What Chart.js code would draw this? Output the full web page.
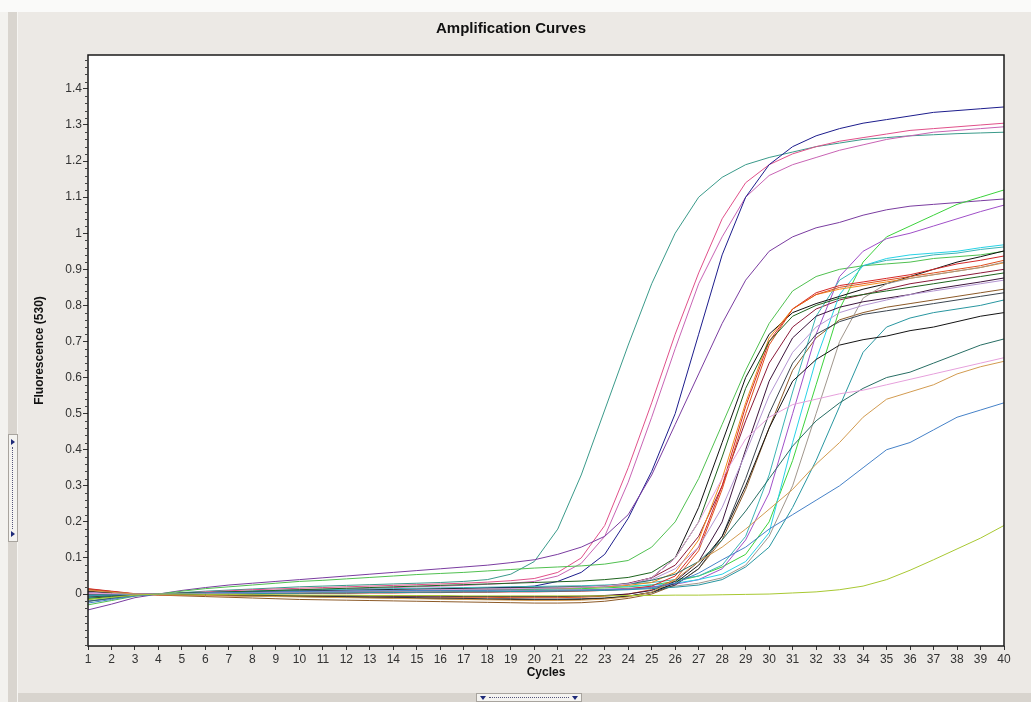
<!DOCTYPE html>
<html>
<head>
<meta charset="utf-8">
<script src="https://cdn.jsdelivr.net/npm/chart.js@4.4.1/dist/chart.umd.min.js"></script>
<style>
  html, body { margin: 0; padding: 0; }
  body { width: 1031px; height: 702px; background: #ECE9E5; position: relative; overflow: hidden; }
  #topband { position: absolute; left: 0; top: 0; width: 1031px; height: 12px; background: #FAFAF9; }
  #leftedge { position: absolute; left: 0; top: 12px; width: 8px; height: 690px; background: #F3F2EF; }
  #leftbar { position: absolute; left: 8px; top: 12px; width: 9px; height: 690px; background: #D9D5CF; border-right: 1px solid #F6F5F2; }
  #bottombar { position: absolute; left: 18px; top: 693px; width: 1013px; height: 9px; background: #D8D4CE; }
  #hgrip { position: absolute; left: 476px; top: 693px; width: 104px; height: 7px; background: #F4F3F0; border: 1px solid #A8A49E; }
  #hgrip .dots { position: absolute; left: 12px; right: 12px; top: 3px; border-top: 1px dotted #55557A; }
  #vgrip { position: absolute; left: 8px; top: 434px; width: 8px; height: 106px; background: #F4F3F0; border: 1px solid #A8A49E; }
  #vgrip .dots { position: absolute; top: 12px; bottom: 12px; left: 3px; border-left: 1px dotted #55557A; }
  .tdown { position: absolute; top: 2px; width: 0; height: 0; border-left: 3px solid transparent; border-right: 3px solid transparent; border-top: 4px solid #1E2A78; }
  .tright { position: absolute; left: 2px; width: 0; height: 0; border-top: 3px solid transparent; border-bottom: 3px solid transparent; border-left: 4px solid #1E2A78; }
  canvas { position: absolute; left: 0; top: 0; }
</style>
</head>
<body>
<div id="topband"></div>
<div id="leftedge"></div>
<div id="leftbar"></div>
<div id="bottombar"></div>
<div id="hgrip"><div class="tdown" style="left:3px"></div><div class="dots"></div><div class="tdown" style="right:3px"></div></div>
<div id="vgrip"><div class="tright" style="top:4px"></div><div class="dots"></div><div class="tright" style="bottom:4px"></div></div>
<canvas id="ampChart" width="1031" height="702"></canvas>
<script>
// cycle labels (x axis)
var cycles = ['1','2','3','4','5','6','7','8','9','10','11','12','13','14','15','16','17','18','19','20',
              '21','22','23','24','25','26','27','28','29','30','31','32','33','34','35','36','37','38','39','40'];

// fluorescence values that carry a tick label
var yLabelled = [0, 0.1, 0.2, 0.3, 0.4, 0.5, 0.6, 0.7, 0.8, 0.9, 1, 1.1, 1.2, 1.3, 1.4];

// one array per well, cycles 1..40
var teal = [-0.02, -0.012, -0.004, 0.0, 0.004, 0.008, 0.011, 0.014, 0.017, 0.02, 0.022, 0.024, 0.026, 0.028, 0.03, 0.032, 0.035, 0.04, 0.055, 0.09,
            0.18, 0.33, 0.51, 0.69, 0.86, 1.0, 1.1, 1.155, 1.19, 1.21, 1.225, 1.24, 1.25, 1.26, 1.265, 1.27, 1.273, 1.276, 1.278, 1.28];
var pink = [0.0, 0.0, -0.002, 0.0, 0.003, 0.006, 0.009, 0.012, 0.014, 0.016, 0.018, 0.02, 0.022, 0.024, 0.026, 0.028, 0.03, 0.033, 0.037, 0.043,
            0.06, 0.1, 0.19, 0.35, 0.53, 0.72, 0.89, 1.04, 1.14, 1.19, 1.22, 1.24, 1.255, 1.265, 1.275, 1.285, 1.29, 1.295, 1.3, 1.305];
var magenta = [-0.01, -0.006, -0.002, 0.0, 0.002, 0.004, 0.006, 0.008, 0.01, 0.012, 0.013, 0.014, 0.016, 0.018, 0.02, 0.022, 0.024, 0.027, 0.03, 0.035,
               0.05, 0.085, 0.16, 0.31, 0.49, 0.68, 0.86, 0.99, 1.1, 1.16, 1.19, 1.21, 1.23, 1.245, 1.26, 1.27, 1.28, 1.285, 1.29, 1.295];
var navy = [-0.005, -0.003, -0.001, 0.0, 0.002, 0.004, 0.005, 0.006, 0.007, 0.008, 0.009, 0.01, 0.011, 0.012, 0.013, 0.014, 0.015, 0.017, 0.019, 0.022,
            0.035, 0.06, 0.11, 0.21, 0.34, 0.5, 0.72, 0.94, 1.1, 1.19, 1.24, 1.27, 1.29, 1.305, 1.315, 1.325, 1.335, 1.34, 1.345, 1.35];
var purple = [-0.044, -0.028, -0.01, 0.0, 0.01, 0.018, 0.025, 0.03, 0.035, 0.04, 0.045, 0.05, 0.055, 0.06, 0.065, 0.07, 0.075, 0.08, 0.087, 0.095,
              0.11, 0.13, 0.16, 0.22, 0.33, 0.47, 0.61, 0.75, 0.87, 0.95, 0.99, 1.015, 1.03, 1.05, 1.065, 1.075, 1.08, 1.085, 1.09, 1.095];
var greenHigh = [-0.03, -0.018, -0.006, 0.0, 0.008, 0.015, 0.02, 0.025, 0.03, 0.035, 0.038, 0.042, 0.046, 0.05, 0.054, 0.057, 0.06, 0.064, 0.068, 0.072,
                 0.075, 0.078, 0.083, 0.093, 0.13, 0.2, 0.32, 0.47, 0.62, 0.75, 0.84, 0.88, 0.9, 0.91, 0.915, 0.92, 0.93, 0.935, 0.94, 0.95];
var greenLate = [-0.015, -0.008, -0.002, 0.0, 0.002, 0.003, 0.004, 0.005, 0.006, 0.006, 0.007, 0.008, 0.008, 0.009, 0.01, 0.01, 0.011, 0.012, 0.012, 0.013,
                 0.014, 0.015, 0.017, 0.02, 0.025, 0.035, 0.05, 0.075, 0.11, 0.2, 0.37, 0.58, 0.79, 0.92, 0.99, 1.02, 1.05, 1.08, 1.1, 1.12];
var violet = [-0.02, -0.012, -0.004, 0.0, 0.0, 0.001, 0.002, 0.002, 0.003, 0.003, 0.004, 0.004, 0.005, 0.005, 0.006, 0.006, 0.007, 0.007, 0.008, 0.009,
              0.01, 0.011, 0.013, 0.016, 0.02, 0.027, 0.04, 0.07, 0.15, 0.28, 0.5, 0.72, 0.88, 0.95, 0.985, 1.0, 1.02, 1.04, 1.06, 1.078];
var cyan = [-0.01, -0.006, -0.002, 0.0, 0.001, 0.002, 0.003, 0.004, 0.005, 0.006, 0.007, 0.008, 0.009, 0.01, 0.011, 0.012, 0.013, 0.014, 0.015, 0.016,
            0.017, 0.018, 0.02, 0.022, 0.025, 0.03, 0.04, 0.055, 0.09, 0.17, 0.42, 0.65, 0.83, 0.91, 0.93, 0.94, 0.945, 0.95, 0.96, 0.968];
var tealLight = [-0.005, -0.003, -0.001, 0.0, 0.002, 0.004, 0.006, 0.008, 0.01, 0.011, 0.012, 0.013, 0.014, 0.015, 0.016, 0.017, 0.018, 0.019, 0.02, 0.021,
                 0.022, 0.023, 0.025, 0.028, 0.032, 0.04, 0.05, 0.08, 0.16, 0.33, 0.56, 0.77, 0.87, 0.91, 0.925, 0.93, 0.94, 0.945, 0.955, 0.962];
var blackA = [0.005, 0.002, 0.0, 0.0, 0.002, 0.004, 0.005, 0.006, 0.007, 0.008, 0.009, 0.01, 0.011, 0.012, 0.013, 0.014, 0.015, 0.016, 0.017, 0.018,
              0.019, 0.02, 0.022, 0.028, 0.045, 0.1, 0.24, 0.42, 0.6, 0.72, 0.78, 0.805, 0.825, 0.845, 0.86, 0.88, 0.9, 0.92, 0.935, 0.951];
var red = [0.015, 0.008, 0.001, -0.002, -0.002, -0.001, 0.0, 0.0, 0.001, 0.001, 0.002, 0.002, 0.003, 0.003, 0.004, 0.004, 0.005, 0.005, 0.006, 0.006,
           0.007, 0.008, 0.01, 0.014, 0.022, 0.05, 0.13, 0.3, 0.52, 0.7, 0.79, 0.835, 0.855, 0.865, 0.875, 0.885, 0.9, 0.915, 0.925, 0.937];
var orange = [0.01, 0.005, 0.0, -0.001, 0.0, 0.001, 0.002, 0.003, 0.004, 0.005, 0.006, 0.007, 0.008, 0.009, 0.01, 0.011, 0.012, 0.013, 0.014, 0.015,
              0.016, 0.018, 0.02, 0.024, 0.032, 0.06, 0.15, 0.32, 0.53, 0.71, 0.79, 0.83, 0.845, 0.855, 0.865, 0.875, 0.885, 0.895, 0.905, 0.918];
var orangeRed = [0.012, 0.006, 0.0, -0.002, -0.003, -0.004, -0.005, -0.005, -0.006, -0.006, -0.007, -0.007, -0.008, -0.008, -0.008, -0.009, -0.009, -0.009, -0.01, -0.01,
                 -0.01, -0.009, -0.006, 0.0, 0.012, 0.04, 0.12, 0.29, 0.5, 0.69, 0.79, 0.83, 0.85, 0.86, 0.87, 0.88, 0.89, 0.9, 0.91, 0.925];
var grey = [0.0, 0.0, 0.0, 0.0, 0.001, 0.002, 0.002, 0.003, 0.003, 0.004, 0.004, 0.005, 0.005, 0.006, 0.006, 0.007, 0.007, 0.008, 0.008, 0.009,
            0.01, 0.011, 0.012, 0.014, 0.017, 0.022, 0.03, 0.045, 0.08, 0.16, 0.3, 0.5, 0.7, 0.82, 0.86, 0.875, 0.885, 0.895, 0.905, 0.92];
var darkGreen = [-0.012, -0.007, -0.002, 0.0, 0.002, 0.004, 0.006, 0.008, 0.01, 0.012, 0.014, 0.016, 0.018, 0.02, 0.022, 0.024, 0.026, 0.028, 0.03, 0.032,
                 0.034, 0.036, 0.04, 0.046, 0.06, 0.1, 0.2, 0.38, 0.57, 0.7, 0.77, 0.8, 0.82, 0.83, 0.84, 0.85, 0.86, 0.87, 0.88, 0.89];
var darkPurple = [0.0, 0.0, 0.0, 0.0, -0.001, -0.002, -0.003, -0.003, -0.004, -0.004, -0.005, -0.005, -0.005, -0.006, -0.006, -0.006, -0.007, -0.007, -0.007, -0.007,
                  -0.007, -0.006, -0.004, 0.0, 0.01, 0.035, 0.09, 0.2, 0.4, 0.59, 0.71, 0.77, 0.795, 0.81, 0.82, 0.83, 0.845, 0.855, 0.865, 0.876];
var lavender = [0.005, 0.003, 0.001, 0.0, 0.001, 0.002, 0.003, 0.004, 0.005, 0.006, 0.007, 0.008, 0.009, 0.01, 0.011, 0.012, 0.013, 0.014, 0.015, 0.016,
                0.017, 0.019, 0.022, 0.028, 0.04, 0.07, 0.13, 0.24, 0.39, 0.55, 0.67, 0.74, 0.78, 0.8, 0.815, 0.83, 0.84, 0.85, 0.86, 0.87];
var slate = [-0.008, -0.005, -0.002, 0.0, 0.0, -0.001, -0.002, -0.003, -0.004, -0.005, -0.006, -0.007, -0.008, -0.009, -0.01, -0.011, -0.012, -0.013, -0.013, -0.014,
             -0.014, -0.013, -0.011, -0.006, 0.004, 0.025, 0.07, 0.16, 0.32, 0.5, 0.64, 0.72, 0.755, 0.775, 0.785, 0.795, 0.805, 0.815, 0.825, 0.835];
var tealSteep = [-0.003, -0.002, -0.001, 0.0, 0.0, 0.0, 0.001, 0.001, 0.002, 0.002, 0.003, 0.003, 0.004, 0.004, 0.005, 0.005, 0.006, 0.006, 0.007, 0.007,
                 0.008, 0.009, 0.01, 0.012, 0.015, 0.019, 0.025, 0.04, 0.075, 0.13, 0.24, 0.37, 0.52, 0.67, 0.74, 0.765, 0.78, 0.79, 0.8, 0.815];
var blackB = [0.008, 0.004, 0.0, -0.001, -0.002, -0.003, -0.004, -0.005, -0.006, -0.007, -0.008, -0.009, -0.01, -0.011, -0.012, -0.013, -0.014, -0.015, -0.015, -0.016,
              -0.016, -0.015, -0.012, -0.006, 0.005, 0.03, 0.08, 0.16, 0.3, 0.46, 0.59, 0.65, 0.69, 0.705, 0.715, 0.73, 0.74, 0.755, 0.77, 0.78];
var darkTeal = [-0.02, -0.012, -0.004, 0.0, 0.001, 0.002, 0.003, 0.004, 0.005, 0.006, 0.007, 0.008, 0.009, 0.01, 0.011, 0.012, 0.013, 0.014, 0.015, 0.016,
                0.017, 0.019, 0.022, 0.028, 0.038, 0.055, 0.09, 0.15, 0.23, 0.32, 0.41, 0.48, 0.53, 0.57, 0.6, 0.615, 0.64, 0.665, 0.69, 0.707];
var lightPink = [0.002, 0.001, 0.0, 0.0, 0.001, 0.002, 0.003, 0.004, 0.005, 0.006, 0.007, 0.008, 0.009, 0.01, 0.011, 0.012, 0.013, 0.014, 0.015, 0.016,
                 0.017, 0.019, 0.022, 0.028, 0.045, 0.1, 0.2, 0.32, 0.43, 0.49, 0.525, 0.54, 0.555, 0.565, 0.58, 0.595, 0.61, 0.625, 0.64, 0.655];
var tan = [0.01, 0.005, 0.0, -0.002, -0.003, -0.004, -0.005, -0.006, -0.007, -0.008, -0.009, -0.01, -0.011, -0.012, -0.013, -0.014, -0.015, -0.016, -0.017, -0.018,
           -0.018, -0.017, -0.014, -0.008, 0.005, 0.04, 0.09, 0.13, 0.18, 0.235, 0.29, 0.36, 0.42, 0.49, 0.54, 0.56, 0.58, 0.61, 0.63, 0.645];
var steel = [-0.025, -0.015, -0.005, 0.0, 0.002, 0.003, 0.004, 0.005, 0.006, 0.007, 0.008, 0.008, 0.009, 0.009, 0.01, 0.01, 0.01, 0.01, 0.011, 0.011,
             0.011, 0.011, 0.012, 0.013, 0.018, 0.03, 0.058, 0.095, 0.13, 0.18, 0.22, 0.26, 0.3, 0.35, 0.4, 0.42, 0.455, 0.49, 0.51, 0.53];
var yellowGreen = [-0.015, -0.009, -0.003, 0.0, 0.0, -0.001, -0.001, -0.002, -0.002, -0.003, -0.003, -0.003, -0.004, -0.004, -0.004, -0.004, -0.005, -0.005, -0.005, -0.005,
                   -0.005, -0.005, -0.005, -0.004, -0.004, -0.003, -0.003, -0.002, -0.001, 0.0, 0.003, 0.006, 0.012, 0.022, 0.04, 0.066, 0.095, 0.125, 0.155, 0.19];
var brown = [0.014, 0.007, 0.0, -0.003, -0.005, -0.007, -0.009, -0.011, -0.013, -0.015, -0.016, -0.017, -0.018, -0.019, -0.02, -0.021, -0.022, -0.023, -0.024, -0.025,
             -0.025, -0.024, -0.02, -0.012, 0.0, 0.025, 0.07, 0.15, 0.29, 0.46, 0.62, 0.71, 0.76, 0.78, 0.795, 0.805, 0.815, 0.825, 0.835, 0.845];
var maroon = [0.005, 0.002, 0.0, 0.0, 0.0, 0.001, 0.002, 0.003, 0.004, 0.005, 0.006, 0.007, 0.008, 0.009, 0.01, 0.011, 0.012, 0.013, 0.014, 0.015,
              0.016, 0.018, 0.022, 0.03, 0.045, 0.08, 0.16, 0.3, 0.48, 0.64, 0.74, 0.79, 0.815, 0.83, 0.845, 0.86, 0.87, 0.88, 0.89, 0.9];

var wells = [yellowGreen, steel, tan, lightPink, darkTeal, blackB, tealSteep, slate, lavender, darkPurple, darkGreen,
             grey, orangeRed, orange, red, blackA, tealLight, cyan, violet, greenLate, greenHigh, purple, navy, magenta, pink, teal, brown, maroon];
var wellColors = ['#A8C832', '#4682C8', '#D29B50', '#E6A0DC', '#286E64', '#141414', '#2896A0', '#3C4650', '#B496D2', '#3C143C', '#1E641E',
                  '#A0968C', '#E0501E', '#F08C1E', '#D42828', '#101010', '#3CB4B4', '#28D2E6', '#A050C8', '#3CD23C', '#50C050', '#7A3CA0', '#1C1C8C', '#C864B4', '#E0508A', '#3A9A8A', '#8C5A28', '#8B1A3A'];

function isMajor(v) {
    return yLabelled.some(function(m) { return Math.abs(m - v) < 1e-6; });
}

var datasets = wells.map(function(values, i) {
    return {
        label: 'Well ' + (i + 1),
        data: values,
        borderColor: wellColors[i],
        borderWidth: 1,
        pointRadius: 0,
        tension: 0,
        fill: false
    };
});

// white plot area, black frame and short minor ticks
var framePlugin = {
    id: 'frame',
    beforeDraw: function(chart) {
        var a = chart.chartArea, ctx = chart.ctx;
        ctx.save();
        ctx.fillStyle = '#ffffff';
        ctx.fillRect(a.left, a.top, a.right - a.left, a.bottom - a.top);
        ctx.restore();
    },
    afterDraw: function(chart) {
        var a = chart.chartArea, ctx = chart.ctx, y = chart.scales.y;
        ctx.save();
        ctx.strokeStyle = '#1a1a1a';
        ctx.lineWidth = 1.5;
        ctx.strokeRect(a.left, a.top, a.right - a.left, a.bottom - a.top);
        ctx.lineWidth = 1;
        ctx.strokeStyle = '#444';
        y.ticks.forEach(function(t) {
            if (isMajor(t.value)) return;
            var py = Math.round(y.getPixelForValue(t.value)) + 0.5;
            ctx.beginPath();
            ctx.moveTo(a.left - 3, py);
            ctx.lineTo(a.left, py);
            ctx.stroke();
        });
        ctx.restore();
    }
};

var fontFamily = '"Liberation Sans", Arial, sans-serif';

new Chart(document.getElementById('ampChart').getContext('2d'), {
    type: 'line',
    data: { labels: cycles, datasets: datasets },
    options: {
        responsive: false,
        animation: false,
        events: [],
        layout: { padding: { top: 12, left: 18, right: 27, bottom: 9 } },
        plugins: {
            legend: { display: false },
            tooltip: { enabled: false },
            title: {
                display: true,
                text: 'Amplification Curves',
                color: '#111',
                font: { family: fontFamily, size: 15, weight: 'bold' },
                padding: { top: 8, bottom: 17 }
            }
        },
        scales: {
            x: {
                type: 'category',
                offset: false,
                border: { display: false },
                grid: { drawOnChartArea: false, tickLength: 4, tickColor: '#333' },
                ticks: {
                    autoSkip: false, maxRotation: 0, minRotation: 0, padding: 2,
                    color: '#333', font: { family: fontFamily, size: 12 }
                },
                title: {
                    display: true, text: 'Cycles', color: '#111',
                    font: { family: fontFamily, size: 12, weight: 'bold' },
                    padding: { top: 0, bottom: 13 }
                },
                afterFit: function(scale) { scale.height = 47; }
            },
            y: {
                type: 'linear',
                min: -0.144,
                max: 1.494,
                border: { display: false },
                grid: {
                    drawOnChartArea: false, tickLength: 5,
                    tickColor: function(c) { return c.tick && isMajor(c.tick.value) ? '#333' : 'rgba(0,0,0,0)'; }
                },
                ticks: {
                    stepSize: 0.02, includeBounds: false, autoSkip: false, padding: 1,
                    color: '#333', font: { family: fontFamily, size: 12 },
                    callback: function(v) { return isMajor(v) && v > -1e-9 ? String(+v.toFixed(1)) : ''; }
                },
                title: {
                    display: true, text: 'Fluorescence (530)', color: '#111',
                    font: { family: fontFamily, size: 12, weight: 'bold' },
                    padding: { top: 14, bottom: 0 }
                },
                afterFit: function(scale) { scale.width = 70; }
            }
        }
    },
    plugins: [framePlugin]
});
</script>
</body>
</html>
